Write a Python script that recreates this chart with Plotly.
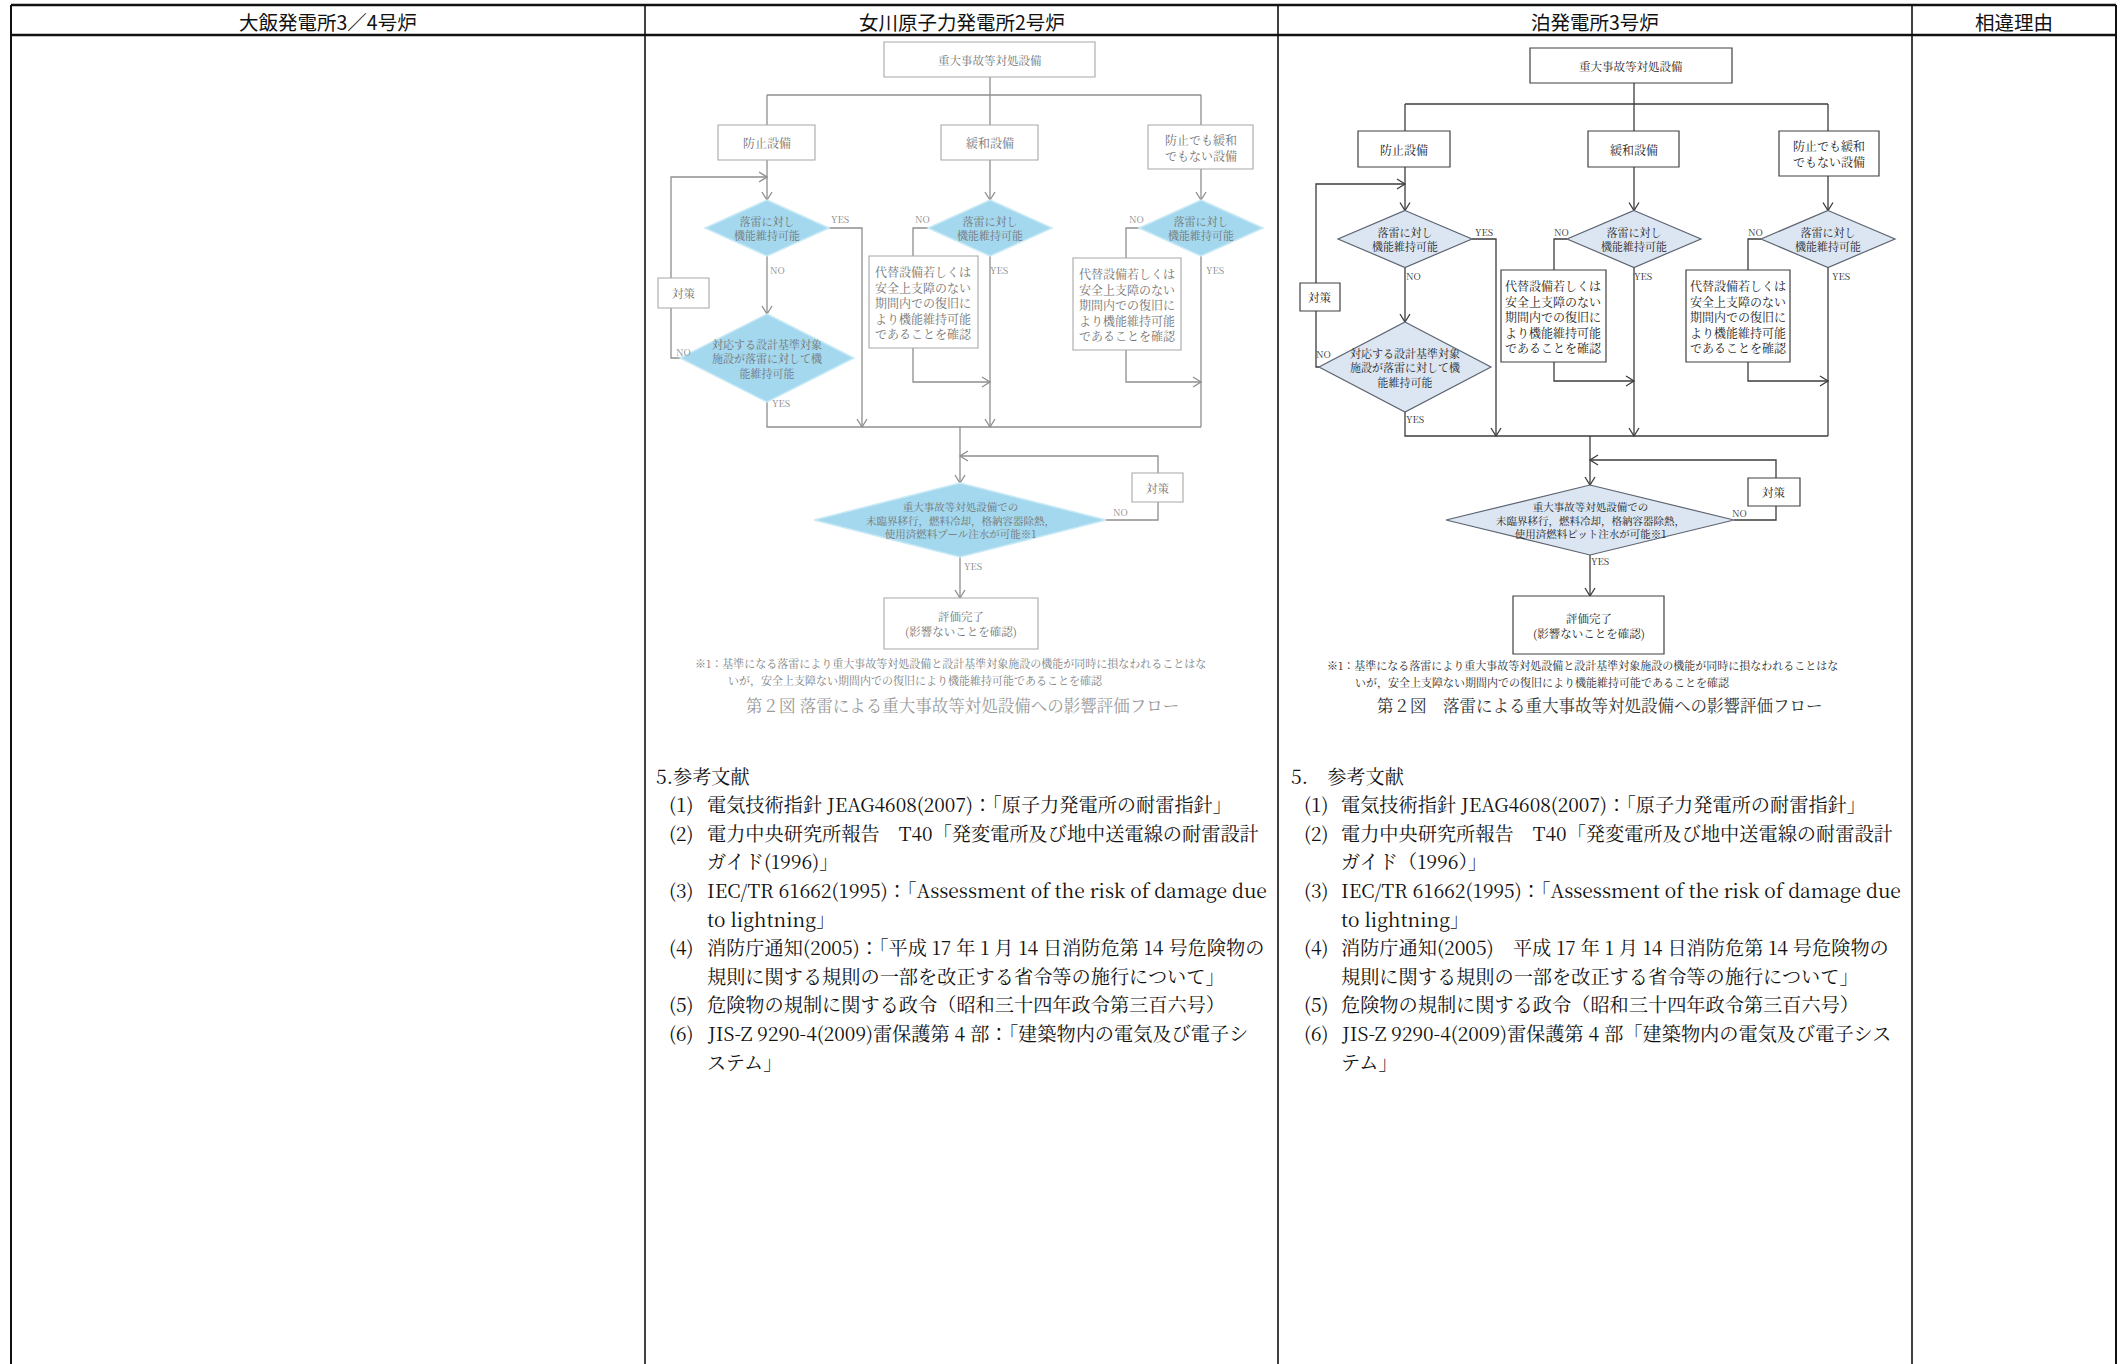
import plotly.graph_objects as go

W, H = 2123, 1364

# ---------------- data (texts) ----------------
headers = ["大飯発電所3／4号炉", "女川原子力発電所2号炉", "泊発電所3号炉", "相違理由"]

flow_top = "重大事故等対処設備"
flow_branches = ["防止設備", "緩和設備", "防止でも緩和<br>でもない設備"]
flow_check = "落雷に対し<br>機能維持可能"
flow_dbcheck = "対応する設計基準対象<br>施設が落雷に対して機<br>能維持可能"
flow_alt = "代替設備若しくは<br>安全上支障のない<br>期間内での復旧に<br>より機能維持可能<br>であることを確認"
flow_measure = "対策"
flow_done = "評価完了<br>(影響ないことを確認)"
onagawa_final = "重大事故等対処設備での<br>未臨界移行，燃料冷却，格納容器除熱，<br>使用済燃料プール注水が可能※1"
tomari_final = "重大事故等対処設備での<br>未臨界移行，燃料冷却，格納容器除熱，<br>使用済燃料ピット注水が可能※1"
flow_note = ["※1：基準になる落雷により重大事故等対処設備と設計基準対象施設の機能が同時に損なわれることはな",
             "いが，安全上支障ない期間内での復旧により機能維持可能であることを確認"]
onagawa_caption = "第２図 落雷による重大事故等対処設備への影響評価フロー"
tomari_caption = "第２図　落雷による重大事故等対処設備への影響評価フロー"

refs_title_left = "5.参考文献"
refs_title_right = "5.　参考文献"
refs_left = [
    ("(1)", "電気技術指針 JEAG4608(2007)：「原子力発電所の耐雷指針」"),
    ("(2)", "電力中央研究所報告　T40「発変電所及び地中送電線の耐雷設計"),
    ("", "ガイド(1996)」"),
    ("(3)", "IEC/TR 61662(1995)：「Assessment of the risk of damage due"),
    ("", "to lightning」"),
    ("(4)", "消防庁通知(2005)：「平成 17 年 1 月 14 日消防危第 14 号危険物の"),
    ("", "規則に関する規則の一部を改正する省令等の施行について」"),
    ("(5)", "危険物の規制に関する政令（昭和三十四年政令第三百六号）"),
    ("(6)", "JIS-Z 9290-4(2009)雷保護第 4 部：「建築物内の電気及び電子シ"),
    ("", "ステム」"),
]
refs_right = [
    ("(1)", "電気技術指針 JEAG4608(2007)：「原子力発電所の耐雷指針」"),
    ("(2)", "電力中央研究所報告　T40「発変電所及び地中送電線の耐雷設計"),
    ("", "ガイド（1996）」"),
    ("(3)", "IEC/TR 61662(1995)：「Assessment of the risk of damage due"),
    ("", "to lightning」"),
    ("(4)", "消防庁通知(2005)　平成 17 年 1 月 14 日消防危第 14 号危険物の"),
    ("", "規則に関する規則の一部を改正する省令等の施行について」"),
    ("(5)", "危険物の規制に関する政令（昭和三十四年政令第三百六号）"),
    ("(6)", "JIS-Z 9290-4(2009)雷保護第 4 部「建築物内の電気及び電子シス"),
    ("", "テム」"),
]

FONT = "Noto Serif CJK JP, Liberation Serif, Noto Sans CJK JP"
HEAD_FONT = "Noto Sans CJK JP"

shapes_lines = []
shapes_boxes = []
annos = []


def seg(pts, color, w):
    path = "M " + " L ".join(f"{x},{y}" for x, y in pts)
    shapes_lines.append(dict(type="path", path=path, xref="x", yref="y",
                             line=dict(color=color, width=w)))


def arrow(x, y, d, color, w, s=5, l=8):
    if d == "down":
        pts = [(x - s, y - l), (x, y), (x + s, y - l)]
    elif d == "right":
        pts = [(x - l, y - s), (x, y), (x - l, y + s)]
    else:
        pts = [(x + l, y - s), (x, y), (x + l, y + s)]
    path = "M " + " L ".join(f"{a},{b}" for a, b in pts)
    shapes_boxes.append(dict(type="path", path=path, xref="x", yref="y",
                             line=dict(color=color, width=w)))


def rect(b, color, w, fill="white"):
    shapes_boxes.append(dict(type="rect", x0=b[0], y0=b[1], x1=b[2], y1=b[3],
                             xref="x", yref="y", fillcolor=fill,
                             line=dict(color=color, width=w)))


def diamond(cx, cy, hw, hh, fill, color, w):
    path = f"M {cx},{cy-hh} L {cx+hw},{cy} L {cx},{cy+hh} L {cx-hw},{cy} Z"
    shapes_boxes.append(dict(type="path", path=path, xref="x", yref="y",
                             fillcolor=fill, line=dict(color=color, width=w)))


def text(x, y, t, size, color, xa="center", ya="middle", family=FONT):
    annos.append(dict(x=x, y=y, xref="x", yref="y", text=t, showarrow=False,
                      xanchor=xa, yanchor=ya, align="center" if xa == "center" else "left",
                      font=dict(family=family, size=size, color=color)))


def bc(b):
    return ((b[0] + b[2]) / 2, (b[1] + b[3]) / 2)


def draw_flow(g, S, final_text, caption):
    lc, lw = S["line"], S["lw"]
    cx = g["cx"]
    xs = g["cols"]
    dy, dhw, dhh = g["dy"], g["dhw"], g["dhh"]
    seg([(cx, g["top"][3]), (cx, g["by"])], lc, lw)
    seg([(xs[0], g["by"]), (xs[2], g["by"])], lc, lw)
    for i, x in enumerate(xs):
        b = g["sub"][i]
        seg([(x, g["by"]), (x, b[1])], lc, lw)
        seg([(x, b[3]), (x, dy - dhh)], lc, lw)
        arrow(x, dy - dhh, "down", lc, lw)
    xL = xs[0]
    d2 = g["d2"]
    seg([(xL, dy + dhh), (xL, d2[1] - d2[3])], lc, lw)
    arrow(xL, d2[1] - d2[3], "down", lc, lw)
    seg([(d2[0] - d2[2], d2[1]), (g["lx"], d2[1]), (g["lx"], g["ly"]), (xL, g["ly"])], lc, lw)
    arrow(xL, g["ly"], "right", lc, lw)
    seg([(xL + dhw, dy), (g["yx"], dy), (g["yx"], g["my"])], lc, lw)
    arrow(g["yx"], g["my"], "down", lc, lw)
    seg([(xL, d2[1] + d2[3]), (xL, g["my"]), (xs[2], g["my"])], lc, lw)
    for i in (1, 2):
        x = xs[i]
        ab = g["alt"][i - 1]
        ax = g["ax"][i - 1]
        seg([(x - dhw, dy), (ax, dy), (ax, ab[1])], lc, lw)
        seg([(ax, ab[3]), (ax, g["ry"]), (x, g["ry"])], lc, lw)
        arrow(x, g["ry"], "right", lc, lw)
        seg([(x, dy + dhh), (x, g["my"])], lc, lw)
    arrow(xs[1], g["my"], "down", lc, lw)
    c2 = g["c2"]
    d3 = g["d3"]
    seg([(c2, g["my"]), (c2, d3[1] - d3[3])], lc, lw)
    arrow(c2, d3[1] - d3[3], "down", lc, lw)
    seg([(d3[0] + d3[2], d3[1]), (g["l2x"], d3[1]), (g["l2x"], g["l2y"]), (c2, g["l2y"])], lc, lw)
    arrow(c2, g["l2y"], "left", lc, lw)
    seg([(c2, d3[1] + d3[3]), (c2, g["end"][1])], lc, lw)
    arrow(c2, g["end"][1], "down", lc, lw)

    bl, bw = S["box"], S["bw"]
    rect(g["top"], bl, bw)
    for b in g["sub"]:
        rect(b, bl, bw)
    for b in g["alt"]:
        rect(b, bl, bw)
    rect(g["m1"], bl, bw)
    rect(g["m2"], bl, bw)
    rect(g["end"], bl, bw)
    for x in xs:
        diamond(x, dy, dhw, dhh, S["dfill"], S["dline"], S["dw"])
    diamond(*d2, S["dfill"], S["dline"], S["dw"])
    diamond(*d3, S["dfill"], S["dline"], S["dw"])

    tc, fs = S["text"], S["fs"]
    text(*bc(g["top"]), flow_top, fs, tc)
    for b, t in zip(g["sub"], flow_branches):
        text(*bc(b), t, fs + 0.5, tc)
    for x in xs:
        text(x, dy, flow_check, fs - 0.5, tc)
    text(d2[0], d2[1], flow_dbcheck, fs - 0.5, tc)
    for b in g["alt"]:
        text(*bc(b), flow_alt, fs + 0.5, tc)
    text(*bc(g["m1"]), flow_measure, fs, tc)
    text(*bc(g["m2"]), flow_measure, fs, tc)
    text(d3[0], d3[1], final_text, fs - 1, tc)
    text(*bc(g["end"]), flow_done, fs, tc)
    for (x, y, t) in g["labels"]:
        text(x, y, t, fs - 2, S["label"])
    for (x, y), t in zip(g["note"], flow_note):
        text(x, y, t, fs - 0.5, S["note"], xa="left")
    text(g["cap"][0], g["cap"][1], caption, 16.5, S["cap"])


# ---------------- geometry ----------------
g_onagawa = dict(
    top=(884, 42, 1095, 77), cx=990, by=95, cols=(767, 990, 1201),
    sub=[(718, 125, 815, 160), (941, 125, 1038, 160), (1148, 125, 1253, 169)],
    dy=228, dhw=62, dhh=28, ly=177, lx=671, m1=(658, 278, 709, 308),
    d2=(767, 358, 87, 44), yx=862,
    alt=[(869, 256, 978, 348), (1073, 258, 1181, 350)], ax=(913, 1126), ry=382,
    my=427, c2=960, l2y=456, l2x=1158, m2=(1132, 473, 1183, 502),
    d3=(960, 520, 146, 37), end=(884, 598, 1038, 649),
    labels=[(840, 219, "YES"), (777, 270, "NO"), (683, 352, "NO"), (781, 403, "YES"),
            (922, 219, "NO"), (999, 270, "YES"), (1136, 219, "NO"), (1215, 270, "YES"),
            (1120, 512, "NO"), (973, 566, "YES")],
    note=[(693, 663), (726, 680)], cap=(962, 705))

g_tomari = dict(
    top=(1530, 48, 1732, 83), cx=1634, by=104, cols=(1405, 1634, 1828),
    sub=[(1358, 131, 1450, 167), (1588, 131, 1679, 167), (1779, 131, 1879, 176)],
    dy=239, dhw=67, dhh=28.5, ly=184, lx=1316, m1=(1300, 283, 1340, 311),
    d2=(1405, 367, 86, 45), yx=1496,
    alt=[(1501, 270, 1606, 362), (1686, 270, 1790, 362)], ax=(1554, 1748), ry=381,
    my=436, c2=1590, l2y=460, l2x=1776, m2=(1748, 478, 1800, 506),
    d3=(1590, 520, 144, 35), end=(1513, 596, 1664, 654),
    labels=[(1484, 232, "YES"), (1413, 276, "NO"), (1323, 354, "NO"), (1415, 419, "YES"),
            (1561, 232, "NO"), (1643, 276, "YES"), (1755, 232, "NO"), (1841, 276, "YES"),
            (1739, 513, "NO"), (1600, 561, "YES")],
    note=[(1325, 665), (1353, 682)], cap=(1600, 705))

style_onagawa = dict(line="#8e8e8e", lw=1.3, box="#a8a8a8", bw=1.1, text="#737373", fs=11.5,
                     dfill="#a3d8ee", dline="#c9e9f5", dw=1.5, label="#8a8a8a",
                     note="#808080", cap="#9a9a9a")
style_tomari = dict(line="#3c3c3c", lw=1.3, box="#404040", bw=1.2, text="#222222", fs=11.5,
                    dfill="#dce6f2", dline="#5d6470", dw=1.2, label="#333333",
                    note="#2a2a2a", cap="#333333")

draw_flow(g_onagawa, style_onagawa, onagawa_final, onagawa_caption)
draw_flow(g_tomari, style_tomari, tomari_final, tomari_caption)

# ---------------- references ----------------
ref_y0, ref_dy, ref_fs = 775, 28.6, 19.2
text(654, ref_y0, refs_title_left, ref_fs, "#111111", xa="left")
text(1289, ref_y0, refs_title_right, ref_fs, "#111111", xa="left")
for i, (n, t) in enumerate(refs_left):
    y = ref_y0 + (i + 1) * ref_dy
    if n:
        text(667, y, n, ref_fs, "#111111", xa="left")
    text(705, y, t, ref_fs, "#111111", xa="left")
for i, (n, t) in enumerate(refs_right):
    y = ref_y0 + (i + 1) * ref_dy
    if n:
        text(1302, y, n, ref_fs, "#111111", xa="left")
    text(1339, y, t, ref_fs, "#111111", xa="left")

# ---------------- table ----------------
col_x = [11, 645, 1278, 1912, 2116]
table = []
for x in col_x:
    table.append(dict(type="line", x0=x, x1=x, y0=5, y1=H + 5, xref="x", yref="y",
                      line=dict(color="#111111", width=2 if x in (11, 2116) else 1.6)))
for y in (5, 35):
    table.append(dict(type="line", x0=11, x1=2116, y0=y, y1=y, xref="x", yref="y",
                      line=dict(color="#111111", width=2.6)))
for i, h in enumerate(headers):
    text((col_x[i] + col_x[i + 1]) / 2, 21, h, 19.5, "#111111", family=HEAD_FONT)

fig = go.Figure()
fig.add_trace(go.Scatter(x=[0, W], y=[0, H], mode="markers", marker=dict(opacity=0),
                         hoverinfo="skip", showlegend=False))
fig.update_layout(
    width=W, height=H, autosize=False,
    margin=dict(l=0, r=0, t=0, b=0, pad=0),
    paper_bgcolor="white", plot_bgcolor="white",
    xaxis=dict(range=[0, W], visible=False, fixedrange=True),
    yaxis=dict(range=[H, 0], visible=False, fixedrange=True),
    shapes=shapes_lines + shapes_boxes + table,
    annotations=annos,
    showlegend=False,
)
fig.write_html("out.html", config={"displayModeBar": False, "staticPlot": True},
               post_script="document.body.style.margin='0';document.body.style.overflow='hidden';")
